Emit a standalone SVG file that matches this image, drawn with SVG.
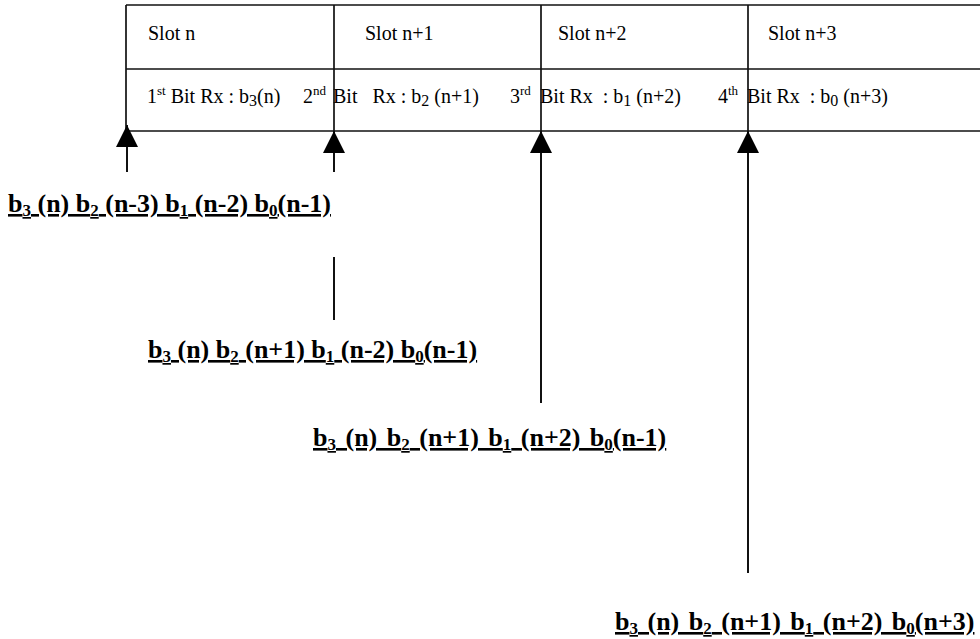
<svg xmlns="http://www.w3.org/2000/svg" width="980" height="639" viewBox="0 0 980 639">
<style>
.ln{stroke:#111;stroke-width:1.7;fill:none}
.ar{stroke:#111;stroke-width:2;fill:none;marker-start:url(#ah)}
.t{font-family:'Liberation Serif','Times New Roman','DejaVu Serif',serif;font-size:20px;fill:#000}
.lb{font-family:'Liberation Serif','Times New Roman','DejaVu Serif',serif;font-size:26px;font-weight:bold;fill:#000;text-decoration:underline}
.ws{word-spacing:3px}
.sp{font-size:13px}
.sb{font-size:16px}
.sl{font-size:17px}
</style>
<defs>
<marker id="ah" markerUnits="userSpaceOnUse" markerWidth="22" markerHeight="22" viewBox="0 0 20 20" refX="20" refY="10" orient="auto-start-reverse">
<path d="M0,0 L20,10 L0,20 z" fill="#000"/>
</marker>
</defs>
<g id="table">
<line class="ln" x1="126" y1="5" x2="980" y2="5"/>
<line class="ln" x1="126" y1="69" x2="980" y2="69"/>
<line class="ln" x1="126" y1="131" x2="980" y2="131"/>
<line class="ln" x1="126" y1="5" x2="126" y2="131"/>
<line class="ln" x1="334" y1="5" x2="334" y2="131"/>
<line class="ln" x1="541" y1="5" x2="541" y2="131"/>
<line class="ln" x1="748" y1="5" x2="748" y2="131"/>
<text class="t" x="148" y="40">Slot n</text>
<text class="t" x="365" y="40">Slot n+1</text>
<text class="t" x="558" y="40">Slot n+2</text>
<text class="t" x="768" y="40">Slot n+3</text>
<text class="t" x="147" y="103">1<tspan class="sp" dy="-8">st</tspan><tspan dy="8"> Bit Rx : b</tspan><tspan class="sb" dy="3">3</tspan><tspan dy="-3">(n)</tspan></text>
<text class="t" x="303" y="103">2<tspan class="sp" dy="-8">nd</tspan></text>
<text class="t" x="333" y="103" xml:space="preserve">Bit   Rx : b<tspan class="sb" dy="3">2</tspan><tspan dy="-3"> (n+1)</tspan></text>
<text class="t" x="510" y="103">3<tspan class="sp" dy="-8">rd</tspan></text>
<text class="t" x="540" y="103" xml:space="preserve">Bit Rx  : b<tspan class="sb" dy="3">1</tspan><tspan dy="-3"> (n+2)</tspan></text>
<text class="t" x="718" y="103">4<tspan class="sp" dy="-8">th</tspan></text>
<text class="t" x="747" y="103" xml:space="preserve">Bit Rx  : b<tspan class="sb" dy="3">0</tspan><tspan dy="-3"> (n+3)</tspan></text>
</g>
<g id="connectors">
<line class="ar" x1="127" y1="125" x2="127" y2="172"/>
<line class="ar" x1="334" y1="131" x2="334" y2="172"/>
<line class="ar" x1="541" y1="131" x2="541" y2="403"/>
<line class="ar" x1="748" y1="131" x2="748" y2="573"/>
<line class="ln" x1="334" y1="257" x2="334" y2="320" style="stroke-width:2"/>
</g>
<g id="label1">
<text class="lb" x="8" y="212" xml:space="preserve">b<tspan class="sl" dy="4">3</tspan><tspan dy="-4"> (n) b</tspan><tspan class="sl" dy="4">2</tspan><tspan dy="-4"> (n-3) b</tspan><tspan class="sl" dy="4">1</tspan><tspan dy="-4"> (n-2) b</tspan><tspan class="sl" dy="4">0</tspan><tspan dy="-4">(n-1)</tspan></text>
</g>
<g id="label2">
<text class="lb" x="148" y="358" xml:space="preserve">b<tspan class="sl" dy="4">3</tspan><tspan dy="-4"> (n) b</tspan><tspan class="sl" dy="4">2</tspan><tspan dy="-4"> (n+1) b</tspan><tspan class="sl" dy="4">1</tspan><tspan dy="-4"> (n-2) b</tspan><tspan class="sl" dy="4">0</tspan><tspan dy="-4">(n-1)</tspan></text>
</g>
<g id="label3">
<text class="lb ws" x="313" y="446" xml:space="preserve">b<tspan class="sl" dy="4">3</tspan><tspan dy="-4"> (n) b</tspan><tspan class="sl" dy="4">2</tspan><tspan dy="-4"> (n+1) b</tspan><tspan class="sl" dy="4">1</tspan><tspan dy="-4"> (n+2) b</tspan><tspan class="sl" dy="4">0</tspan><tspan dy="-4">(n-1)</tspan></text>
</g>
<g id="label4">
<text class="lb ws" x="615" y="630" xml:space="preserve">b<tspan class="sl" dy="4">3</tspan><tspan dy="-4"> (n) b</tspan><tspan class="sl" dy="4">2</tspan><tspan dy="-4"> (n+1) b</tspan><tspan class="sl" dy="4">1</tspan><tspan dy="-4"> (n+2) b</tspan><tspan class="sl" dy="4">0</tspan><tspan dy="-4">(n+3)</tspan></text>
</g>
</svg>
